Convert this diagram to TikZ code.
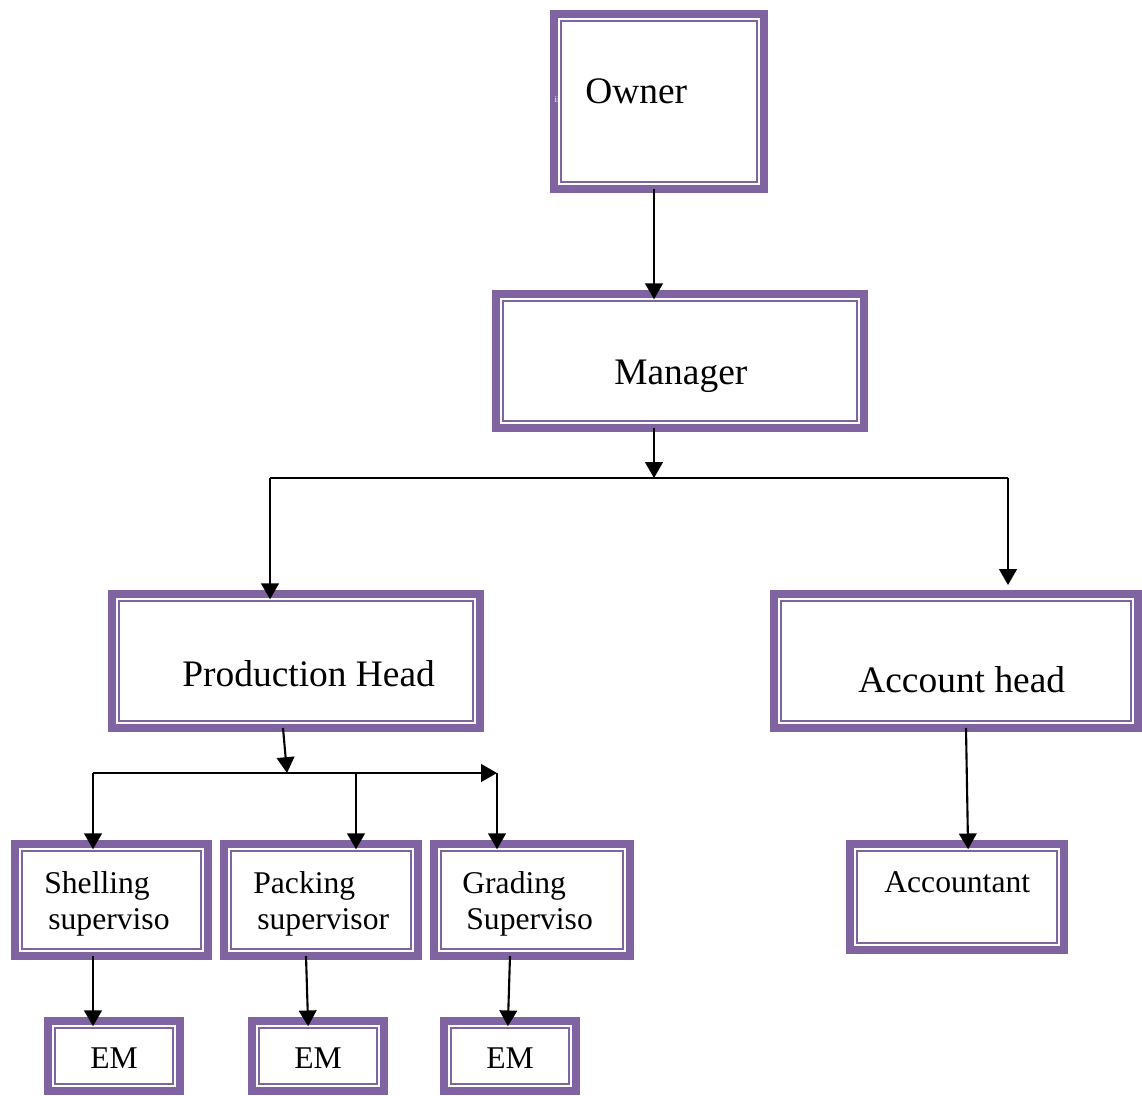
\documentclass[tikz,border=0pt]{standalone}
\usepackage{fontspec}
\setmainfont{Liberation Serif}
\usetikzlibrary{arrows.meta,calc}
\definecolor{boxpurple}{HTML}{8064A2}

\begin{document}
\begin{tikzpicture}[x=0.02cm,y=-0.02cm,
    orgbox/.style={draw=boxpurple, line width=4.5pt, fill=white, inner sep=0pt, outer sep=0pt},
    innerline/.style={draw=boxpurple, line width=1.4pt},
    link/.style={line width=1.2pt},
    arr/.style={line width=1.2pt, -{Triangle[length=9pt,width=10pt]}},
    intobox/.style={shorten >=-3pt},
    bigtxt/.style={font=\fontsize{21.3}{25}\selectfont, inner sep=0pt, anchor=base west},
    smalltxt/.style={font=\fontsize{18}{21}\selectfont, inner sep=0pt, anchor=base west}]
    % Org chart
    \useasboundingbox (0,0) rectangle (1142,1095);

    % Boxes
    \node[orgbox, minimum width=4.2cm, minimum height=3.5cm] at (659,101.5) (owner) {};
    \node[orgbox, minimum width=7.36cm, minimum height=2.68cm] at (680,361) (manager) {};
    \node[orgbox, minimum width=7.36cm, minimum height=2.68cm] at (296,661) (prodhead) {};
    \node[orgbox, minimum width=7.28cm, minimum height=2.68cm] at (956,661) (acchead) {};

    \node[orgbox, minimum width=3.86cm, minimum height=2.24cm] at (111.5,900) (shelling) {};
    \node[orgbox, minimum width=3.88cm, minimum height=2.24cm] at (321,900) (packing) {};
    \node[orgbox, minimum width=3.92cm, minimum height=2.24cm] at (532,900) (grading) {};
    \node[orgbox, minimum width=4.28cm, minimum height=2.12cm] at (957,897) (accountant) {};

    \node[orgbox, minimum width=2.64cm, minimum height=1.4cm] at (114,1056) (em1) {};
    \node[orgbox, minimum width=2.64cm, minimum height=1.4cm] at (318,1056) (em2) {};
    \node[orgbox, minimum width=2.64cm, minimum height=1.4cm] at (510,1056) (em3) {};

    % thin inner frame
    \foreach \n in {owner,manager,prodhead,acchead,shelling,packing,grading,accountant,em1,em2,em3}
        \draw[innerline] ([shift={(7,7)}]\n.north west) rectangle ([shift={(-7,-7)}]\n.south east);

    % Labels
    \node[text=white, font=\fontsize{5}{6}\selectfont, inner sep=0pt] (ownertag) at (557,100) {ii};
    \node[bigtxt] (ownertxt) at (585,104) {Owner};
    \node[bigtxt] (managertxt) at (614,384) {Manager};
    \node[bigtxt] (prodheadtxt) at (182,686) {Production Head};
    \node[bigtxt] (accheadtxt) at (858,692) {Account head};

    \node[smalltxt] (shellingtxt) at (44,893) {Shelling};
    \node[smalltxt] (shellingtxtb) at (48,929) {superviso};
    \node[smalltxt] (packingtxt) at (253,893) {Packing};
    \node[smalltxt] (packingtxtb) at (257,929) {supervisor};
    \node[smalltxt] (gradingtxt) at (462,893) {Grading};
    \node[smalltxt] (gradingtxtb) at (466,929) {Superviso};
    \node[smalltxt] (accountanttxt) at (884,892) {Accountant};

    \node[smalltxt, anchor=base] (em1txt) at (114,1068) {EM};
    \node[smalltxt, anchor=base] (em2txt) at (318,1068) {EM};
    \node[smalltxt, anchor=base] (em3txt) at (510,1068) {EM};

    % Junctions
    \coordinate (mj) at (654,478);
    \coordinate (mjl) at (270,478);
    \coordinate (mjr) at (1008,478);
    \coordinate (accend) at (1008,585);
    \coordinate (pj) at (287,773);
    \coordinate (sl) at (93,773);
    \coordinate (pm) at (356,773);
    \coordinate (sr) at (497,773);

    % Connectors
    \draw[arr, intobox] (owner.south -| mj) -- (manager.north -| mj);
    \draw[arr] (manager.south -| mj) -- (mj);
    \draw[link] (mjl) -- (mjr);
    \draw[arr, intobox] (mjl) -- (prodhead.north -| mjl);
    \draw[arr] (mjr) -- (accend);

    \draw[arr] ($(prodhead.south)+(-13,0)$) -- (pj);
    \draw[arr] (sl) -- (sr);
    \draw[arr, intobox] (sl) -- (shelling.north -| sl);
    \draw[arr, intobox] (pm) -- (packing.north -| pm);
    \draw[arr, intobox] (sr) -- (grading.north -| sr);

    \draw[arr, intobox] (shelling.south -| sl) -- (em1.north -| sl);
    \draw[arr, intobox] ($(packing.south)+(-15,0)$) -- ($(em2.north)+(-10,0)$);
    \draw[arr, intobox] ($(grading.south)+(-22,0)$) -- ($(em3.north)+(-2,0)$);
    \draw[arr, intobox] ($(acchead.south)+(10,0)$) -- ($(accountant.north)+(11,0)$);
\end{tikzpicture}
\end{document}
